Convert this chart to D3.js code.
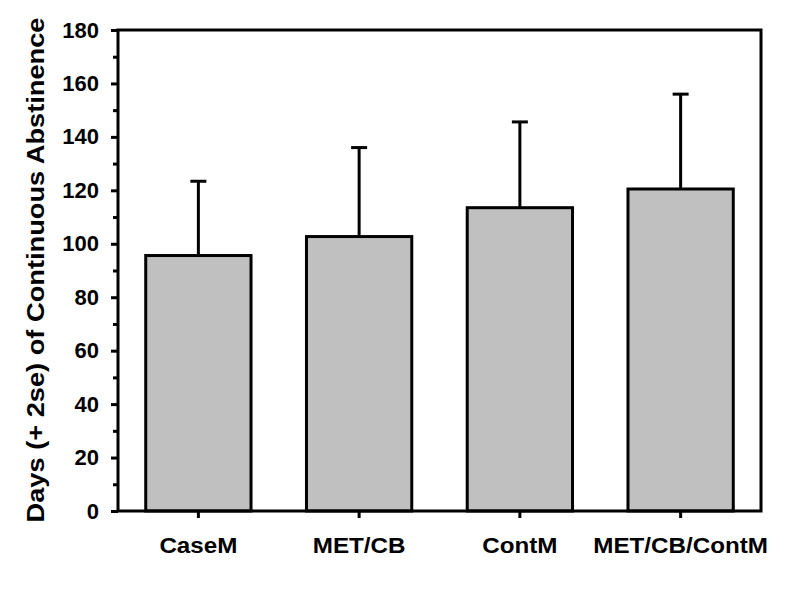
<!DOCTYPE html>
<html>
<head>
<meta charset="utf-8">
<script src="https://d3js.org/d3.v7.min.js"></script>
<style>
  body { margin: 0; background: #fff; }
  text { font-family: "Liberation Sans", Arial, sans-serif; font-weight: bold; }
</style>
</head>
<body>
<svg id="chart"></svg>
<script>
// group names and values (days of continuous abstinence, mean and mean + 2se)
var groups = ["CaseM", "MET/CB", "ContM", "MET/CB/ContM"]
var means = [95.6, 102.7, 113.5, 120.5]
var upper = [123.4, 136, 145.6, 156]
var yTicks = [0, 20, 40, 60, 80, 100, 120, 140, 160, 180]

var width = 800, height = 590
var margin = {top: 30, right: 39, bottom: 79, left: 118}

var svg = d3.select("#chart")
    .attr("width", width)
    .attr("height", height)

var x = d3.scaleBand()
    .domain(groups)
    .range([margin.left, width - margin.right])
    .paddingInner(0.345)
    .paddingOuter(0.1725)

var y = d3.scaleLinear()
    .domain([0, 180])
    .range([height - margin.bottom, margin.top])

var data = groups.map(function(g, i) {
  return {name: g, mean: means[i], up: upper[i]}
})

// the original text is a bit wider than Arial bold, stretch it sideways
function stretch(sel, k) {
  sel.each(function() {
    var len = this.getComputedTextLength()
    d3.select(this)
      .attr("textLength", len * k)
      .attr("lengthAdjust", "spacingAndGlyphs")
  })
}

// error bars first so the bar border sits on top of the stem
var err = svg.append("g")
    .attr("stroke", "#000")
    .attr("stroke-width", 3)
err.selectAll(".stem")
  .data(data)
  .join("line")
    .attr("class", "stem")
    .attr("x1", d => x(d.name) + x.bandwidth() / 2)
    .attr("x2", d => x(d.name) + x.bandwidth() / 2)
    .attr("y1", d => y(d.mean))
    .attr("y2", d => y(d.up))
err.selectAll(".cap")
  .data(data)
  .join("line")
    .attr("class", "cap")
    .attr("x1", d => x(d.name) + x.bandwidth() / 2 - 8)
    .attr("x2", d => x(d.name) + x.bandwidth() / 2 + 8)
    .attr("y1", d => y(d.up))
    .attr("y2", d => y(d.up))

svg.append("g")
  .selectAll("rect")
  .data(data)
  .join("rect")
    .attr("x", d => x(d.name))
    .attr("y", d => y(d.mean))
    .attr("width", x.bandwidth())
    .attr("height", d => y(0) - y(d.mean))
    .attr("fill", "#c0c0c0")
    .attr("stroke", "#000")
    .attr("stroke-width", 3)

// frame
svg.append("rect")
    .attr("x", margin.left)
    .attr("y", margin.top)
    .attr("width", width - margin.left - margin.right)
    .attr("height", height - margin.top - margin.bottom)
    .attr("fill", "none")
    .attr("stroke", "#000")
    .attr("stroke-width", 3)

// y axis: labelled ticks every 20, minor ticks at 10s
var yAxis = svg.append("g")
    .attr("transform", `translate(${margin.left},0)`)
    .call(d3.axisLeft(y).tickValues(yTicks).tickSize(7).tickPadding(12))
yAxis.select(".domain").remove()
yAxis.selectAll(".tick line").attr("stroke-width", 3)
yAxis.selectAll(".tick text")
    .attr("font-size", 22)
    .attr("font-family", "Liberation Sans, Arial, sans-serif")
    .attr("fill", "#000")

var yMinor = svg.append("g")
    .attr("transform", `translate(${margin.left},0)`)
    .call(d3.axisLeft(y).tickValues(d3.range(10, 180, 20)).tickSize(5).tickFormat(""))
yMinor.select(".domain").remove()
yMinor.selectAll(".tick line").attr("stroke-width", 3)

// x axis
var xAxis = svg.append("g")
    .attr("transform", `translate(0,${height - margin.bottom})`)
    .call(d3.axisBottom(x).tickSize(7).tickPadding(19))
xAxis.select(".domain").remove()
xAxis.selectAll(".tick line").attr("stroke-width", 3)
xAxis.selectAll(".tick text")
    .attr("font-size", 22)
    .attr("font-family", "Liberation Sans, Arial, sans-serif")
    .attr("fill", "#000")
    .call(stretch, 1.1)

svg.append("text")
    .attr("transform", "translate(44,270) rotate(-90)")
    .attr("text-anchor", "middle")
    .attr("font-size", 23)
    .attr("textLength", 505)
    .attr("lengthAdjust", "spacingAndGlyphs")
    .text("Days (+ 2se) of Continuous Abstinence")
</script>
</body>
</html>
